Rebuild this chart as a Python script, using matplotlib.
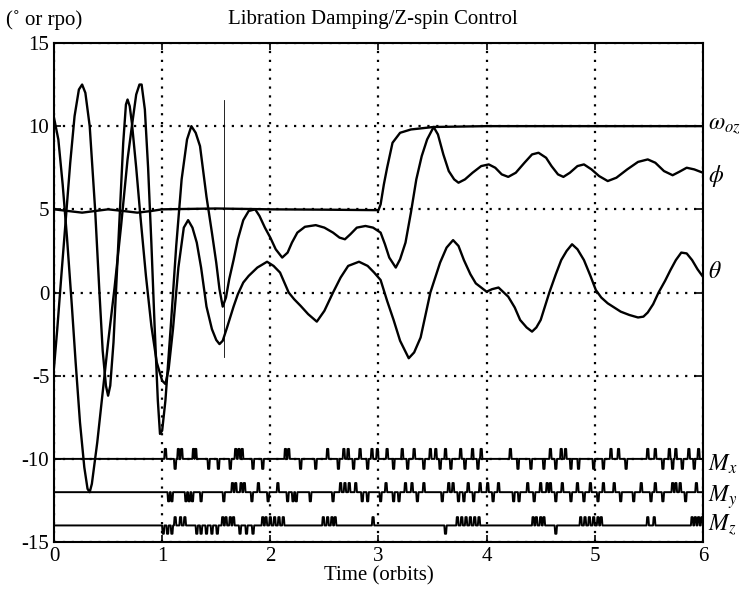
import numpy as np
import matplotlib
matplotlib.use("Agg")
import matplotlib.pyplot as plt
from matplotlib.transforms import blended_transform_factory

plt.rcParams["font.family"] = ["Liberation Serif", "DejaVu Serif"]
plt.rcParams["mathtext.fontset"] = "stix"
plt.rcParams["axes.unicode_minus"] = False

# roll angle phi (deg)
phi_t = [0.0, 0.04, 0.08, 0.12, 0.165, 0.2, 0.24, 0.28, 0.31, 0.33, 0.35, 0.4, 0.45, 0.5,
         0.56, 0.62, 0.68, 0.72, 0.76, 0.79, 0.81, 0.84, 0.87, 0.9, 0.93, 0.96, 0.98, 1.0,
         1.03, 1.08, 1.13, 1.18, 1.23, 1.27, 1.31, 1.35, 1.41, 1.46, 1.5, 1.53, 1.56, 1.59,
         1.62, 1.66, 1.7, 1.75, 1.8, 1.86, 1.9, 1.95, 2.0, 2.05, 2.11, 2.16, 2.2, 2.25, 2.32,
         2.42, 2.5, 2.58, 2.64, 2.69, 2.74, 2.8, 2.88, 2.95, 3.02, 3.06, 3.1, 3.16, 3.2, 3.25,
         3.3, 3.35, 3.4, 3.45, 3.51, 3.55, 3.6, 3.65, 3.7, 3.74, 3.8, 3.87, 3.95, 4.02, 4.08,
         4.14, 4.2, 4.27, 4.35, 4.42, 4.48, 4.55, 4.6, 4.66, 4.71, 4.77, 4.84, 4.9, 4.97, 5.04,
         5.12, 5.2, 5.3, 5.4, 5.49, 5.56, 5.64, 5.72, 5.78, 5.85, 5.92, 6.0]
phi_v = [10.5, 9.2, 6.5, 3.3, -0.8, -4.2, -7.8, -10.5, -11.8, -12.0, -11.5, -9.0, -6.0, -3.0,
         0.3, 4.0, 8.0, 10.0, 11.9, 12.5, 12.5, 11.0, 7.5, 3.0, -2.0, -6.5, -8.5, -8.3,
         -6.5, -2.0, 2.8, 6.8, 9.2, 10.0, 9.6, 8.8, 5.75, 3.6, 1.8, 0.2, -0.85, -0.3,
         0.8, 1.95, 3.2, 4.35, 4.9, 5.0, 4.6, 3.9, 3.3, 2.6, 2.1, 2.4, 3.0, 3.6, 3.95,
         4.05, 3.9, 3.6, 3.3, 3.2, 3.5, 3.9, 4.0, 3.9, 3.6, 2.9, 2.1, 1.5, 2.0, 3.0,
         4.8, 6.8, 8.2, 9.2, 9.95, 9.5, 8.3, 7.3, 6.8, 6.6, 6.8, 7.2, 7.6, 7.7, 7.5,
         7.1, 6.95, 7.2, 7.8, 8.3, 8.4, 8.1, 7.6, 7.1, 6.95, 7.2, 7.6, 7.7, 7.4, 7.0,
         6.7, 6.9, 7.4, 7.85, 8.0, 7.8, 7.3, 7.05, 7.25, 7.5, 7.4, 7.2]

# pitch angle theta (deg)
theta_t = [0.0, 0.03, 0.07, 0.11, 0.15, 0.19, 0.23, 0.26, 0.29, 0.33, 0.38, 0.42, 0.45, 0.48,
           0.5, 0.52, 0.55, 0.58, 0.61, 0.64, 0.665, 0.68, 0.7, 0.72, 0.76, 0.8, 0.85, 0.9,
           0.95, 1.0, 1.03, 1.06, 1.1, 1.15, 1.2, 1.24, 1.28, 1.32, 1.36, 1.41, 1.46, 1.5,
           1.53, 1.56, 1.6, 1.66, 1.7, 1.75, 1.8, 1.88, 1.97, 2.03, 2.09, 2.13, 2.17, 2.22,
           2.28, 2.35, 2.43, 2.5, 2.58, 2.65, 2.72, 2.82, 2.9, 2.96, 3.02, 3.08, 3.14, 3.2,
           3.28, 3.33, 3.39, 3.48, 3.57, 3.63, 3.69, 3.74, 3.79, 3.85, 3.9, 4.0, 4.05, 4.11,
           4.2, 4.26, 4.31, 4.37, 4.42, 4.46, 4.5, 4.58, 4.64, 4.69, 4.74, 4.79, 4.84, 4.9,
           4.96, 5.01, 5.06, 5.12, 5.18, 5.24, 5.32, 5.4, 5.45, 5.49, 5.54, 5.59, 5.65, 5.7,
           5.75, 5.8, 5.85, 5.9, 5.95, 6.0]
theta_v = [-4.5, -2.2, 1.2, 4.5, 7.8, 10.6, 12.2, 12.5, 12.0, 10.0, 5.0, 0.0, -3.5, -5.6,
           -6.2, -5.6, -3.0, 1.0, 5.0, 9.0, 11.3, 11.6, 11.2, 10.2, 7.5, 4.5, 1.0, -2.0,
           -4.2, -5.3, -5.5, -4.6, -2.2, 1.5, 3.9, 4.35, 3.9, 3.0, 1.5, -0.85, -2.2, -2.85,
           -3.1, -2.9, -2.1, -0.85, -0.1, 0.6, 1.0, 1.5, 1.85, 1.6, 1.2, 0.6, 0.0, -0.4,
           -0.8, -1.3, -1.75, -1.1, 0.0, 0.9, 1.6, 1.85, 1.6, 1.2, 0.75, -0.5, -1.65, -2.9,
           -3.95, -3.6, -2.7, 0.0, 1.8, 2.7, 3.15, 2.8, 1.95, 1.1, 0.55, 0.05, 0.2, 0.3,
           -0.25, -0.9, -1.65, -2.1, -2.35, -2.1, -1.65, 0.0, 1.1, 1.95, 2.5, 2.9, 2.6, 1.95,
           1.0, 0.15, -0.3, -0.65, -0.9, -1.15, -1.35, -1.5, -1.45, -1.2, -0.7, 0.0, 0.7, 1.35,
           1.95, 2.4, 2.35, 1.95, 1.4, 0.95]

# z-axis spin rate omega_oz (rpo)
wz_t = [0.0, 0.13, 0.26, 0.38, 0.5, 0.64, 0.77, 0.9, 1.0, 1.5, 2.0, 2.5, 3.0, 3.02, 3.05,
        3.08, 3.13, 3.2, 3.3, 3.51, 4.0, 6.0]
wz_v = [5.0, 4.9, 4.8, 4.9, 5.0, 4.9, 4.8, 4.9, 5.0, 5.05, 5.0, 4.98, 4.95, 5.3, 6.5,
        7.5, 9.0, 9.6, 9.8, 9.95, 10.0, 10.0]

# thruster torque pulses: centre time (orbits) and direction
mx_base, mx_amp = -10.0, 0.6
mx_t = [1.03, 1.12, 1.15, 1.18, 1.29, 1.31, 1.43, 1.52, 1.63, 1.68, 1.71, 1.74, 1.84, 1.93,
        2.14, 2.17, 2.28, 2.42, 2.53, 2.63, 2.68, 2.72, 2.77, 2.83, 2.9, 2.94, 2.99, 3.08,
        3.14, 3.22, 3.27, 3.33, 3.42, 3.48, 3.53, 3.57, 3.62, 3.67, 3.76, 3.8, 3.87, 3.92,
        3.95, 4.22, 4.29, 4.41, 4.53, 4.59, 4.64, 4.69, 4.73, 4.78, 4.85, 4.99, 5.08, 5.15,
        5.22, 5.29, 5.49, 5.56, 5.63, 5.69, 5.72, 5.75, 5.81, 5.87, 5.92, 5.96]
mx_s = [1, -1, 1, 1, 1, 1, -1, -1, -1, 1, 1, 1, -1, -1,
        1, 1, -1, -1, 1, -1, 1, 1, -1, 1, -1, 1, 1, 1,
        -1, 1, -1, 1, -1, 1, 1, -1, 1, -1, 1, -1, 1, -1,
        1, 1, -1, -1, -1, 1, -1, 1, 1, -1, -1, -1, -1, 1,
        1, -1, 1, 1, -1, 1, -1, 1, -1, 1, -1, 1]

my_base, my_amp = -12.0, 0.55
my_t = [1.06, 1.09, 1.22, 1.25, 1.28, 1.36, 1.57, 1.65, 1.68, 1.73, 1.76, 1.83, 1.89, 1.98,
        2.07, 2.16, 2.21, 2.24, 2.37, 2.58, 2.65, 2.69, 2.73, 2.79, 2.85, 2.9, 3.02, 3.07,
        3.14, 3.19, 3.25, 3.31, 3.36, 3.42, 3.59, 3.65, 3.69, 3.74, 3.79, 3.83, 3.88, 3.94,
        4.01, 4.06, 4.11, 4.25, 4.3, 4.38, 4.44, 4.5, 4.56, 4.59, 4.64, 4.7, 4.78, 4.84,
        4.9, 4.96, 5.03, 5.08, 5.18, 5.24, 5.36, 5.43, 5.52, 5.56, 5.63, 5.72, 5.75, 5.79,
        5.84, 5.94]
my_s = [-1, -1, -1, -1, -1, -1, -1, 1, 1, 1, 1, -1, 1, -1,
        1, -1, -1, -1, -1, -1, 1, 1, 1, 1, -1, -1, -1, 1,
        -1, -1, 1, 1, -1, 1, -1, 1, 1, -1, -1, 1, -1, 1,
        1, -1, 1, -1, -1, 1, -1, 1, 1, 1, -1, 1, -1, 1,
        -1, 1, -1, 1, 1, -1, -1, 1, -1, 1, -1, 1, 1, 1,
        -1, 1]

mz_base, mz_amp = -14.0, 0.5
mz_t = [1.01, 1.05, 1.09, 1.12, 1.17, 1.21, 1.32, 1.36, 1.41, 1.46, 1.51, 1.56, 1.59, 1.63,
        1.66, 1.72, 1.78, 1.84, 1.93, 1.96, 2.0, 2.04, 2.08, 2.12, 2.49, 2.53, 2.57, 2.6,
        2.95, 3.62, 3.73, 3.77, 3.81, 3.85, 3.89, 3.93, 4.43, 4.46, 4.5, 4.53, 4.64, 4.87,
        4.91, 4.95, 4.99, 5.03, 5.06, 5.49, 5.55, 5.9, 5.93, 5.96, 5.99]
mz_s = [-1, -1, -1, 1, 1, 1, -1, -1, -1, -1, -1, 1, 1, 1,
        1, -1, -1, -1, 1, 1, 1, 1, 1, 1, 1, 1, 1, 1,
        1, -1, 1, 1, 1, 1, 1, 1, 1, 1, 1, 1, -1, 1,
        1, 1, 1, 1, 1, 1, 1, 1, 1, 1, 1]

# thin marker line drawn at t = 1.575
mark_t = 1.575
mark_y = (-3.9, 11.6)


def pulse_train(base, centres, signs, amp, width=0.022):
    xs, ys = [0.0], [base]
    for c, s in zip(centres, signs):
        xs += [c - width / 2, c - width / 4, c + width / 4, c + width / 2]
        ys += [base, base + s * amp, base + s * amp, base]
    xs.append(6.0)
    ys.append(base)
    return xs, ys


fig = plt.figure(figsize=(7.45, 6.05), dpi=100)
ax = fig.add_axes([0.0725, 0.104, 0.871, 0.825])

lw = 1.7
ax.plot(phi_t, phi_v, color="black", lw=lw, solid_joinstyle="round")
ax.plot(theta_t, theta_v, color="black", lw=lw, solid_joinstyle="round")
ax.plot(wz_t, wz_v, color="black", lw=lw, solid_joinstyle="round")

for base, ct, sg, amp in [(mx_base, mx_t, mx_s, mx_amp),
                          (my_base, my_t, my_s, my_amp),
                          (mz_base, mz_t, mz_s, mz_amp)]:
    px, py = pulse_train(base, ct, sg, amp)
    ax.plot(px, py, color="black", lw=1.4)

ax.plot([mark_t, mark_t], mark_y, color="black", lw=0.6)

ax.set_xlim(0, 6)
ax.set_ylim(-15, 15)
ax.set_xticks(range(0, 7))
ax.set_yticks(range(-15, 16, 5))
ax.tick_params(direction="in", top=True, right=True, labelsize=15, length=5, width=1.2)
ax.grid(True, color="black", linestyle=(0, (1, 3)), lw=1.6)
for sp in ax.spines.values():
    sp.set_linewidth(1.5)

ax.set_xlabel("Time (orbits)", fontsize=15, labelpad=0)
fig.text(0.5, 0.967, "Libration Damping/Z-spin Control", ha="center", va="center", fontsize=15)
fig.text(0.008, 0.967, "(˚ or rpo)", ha="left", va="center", fontsize=15)

tr = blended_transform_factory(ax.transAxes, ax.transData)
side = [(r"$\omega_{oz}$", 10.0), (r"$\phi$", 7.0), (r"$\theta$", 1.2),
        (r"$M_x$", -10.3), (r"$M_y$", -12.3), (r"$M_z$", -14.0)]
for txt, yv in side:
    ax.text(1.008, yv, txt, transform=tr, ha="left", va="center", fontsize=17)

fig.savefig("out.png", dpi=100)
